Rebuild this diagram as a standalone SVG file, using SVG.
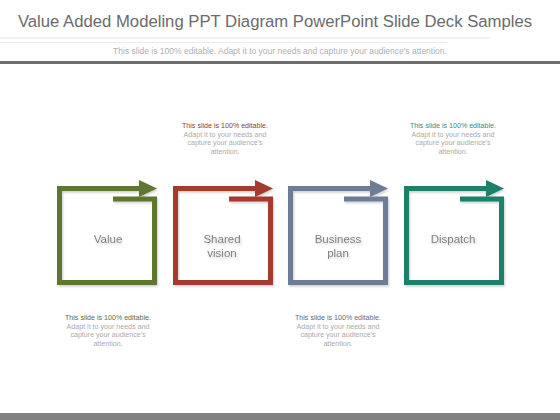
<svg xmlns="http://www.w3.org/2000/svg" width="560" height="420" viewBox="0 0 560 420">
<defs>
<filter id="sh" x="-10%" y="-10%" width="130%" height="130%"><feDropShadow dx="1" dy="1.5" stdDeviation="1.2" flood-color="#000" flood-opacity="0.2"/></filter>
</defs>
<style>
text{font-family:"Liberation Sans",Arial,sans-serif;text-anchor:middle}
.title{font-size:16.7px;fill:#6b6b6b}
.sub{font-size:8.5px;fill:#b0b0b0}
.lbl{font-size:11.5px;fill:#808080}
.note{font-size:7.1px;fill:#aaaaaa}
.frame{fill:none;stroke-width:5;stroke-linejoin:miter;stroke-linecap:butt}
</style>
<rect width="560" height="420" fill="#ffffff"/>
<text class="title" x="275" y="27">Value Added Modeling PPT Diagram PowerPoint Slide Deck Samples</text>
<line x1="0" y1="38" x2="490" y2="38" stroke="#dddddd" stroke-width="0.8"/>
<line x1="0" y1="42.5" x2="447" y2="42.5" stroke="#e6e6e6" stroke-width="0.8"/>
<text class="sub" x="280" y="54">This slide is 100% editable. Adapt it to your needs and capture your audience's attention.</text>
<rect x="0" y="61" width="560" height="3" fill="#6e6e6e"/>
<rect x="0" y="413" width="560" height="7" fill="#808080"/>

<g id="connectors"></g>

<g id="node-value" filter="url(#sh)">
<path class="frame" stroke="#5f7531" d="M113 199 H154.5 V282.5 H59.5 V188.5 H139"/>
<polygon fill="#5f7531" points="139,180 157,188.5 139,197"/>
<text class="lbl" x="108" y="243">Value</text>
</g>
<g id="node-shared-vision" filter="url(#sh)">
<path class="frame" stroke="#a53b2f" d="M229 199 H270.5 V282.5 H175.5 V188.5 H255"/>
<polygon fill="#a53b2f" points="255,180 273,188.5 255,197"/>
<text class="lbl" x="222" y="243">Shared</text>
<text class="lbl" x="222" y="257">vision</text>
</g>
<g id="node-business-plan" filter="url(#sh)">
<path class="frame" stroke="#6d7d98" d="M344 199 H385.5 V282.5 H290.5 V188.5 H370"/>
<polygon fill="#6d7d98" points="370,180 388,188.5 370,197"/>
<text class="lbl" x="338" y="243">Business</text>
<text class="lbl" x="338" y="257">plan</text>
</g>
<g id="node-dispatch" filter="url(#sh)">
<path class="frame" stroke="#1d806b" d="M460 199 H501.5 V282.5 H406.5 V188.5 H486"/>
<polygon fill="#1d806b" points="486,180 504,188.5 486,197"/>
<text class="lbl" x="453" y="243">Dispatch</text>
</g>

<g id="note-shared">
<text class="note" x="225" y="128" style="fill:#8e4037">This slide is 100% editable.</text>
<text class="note" x="225" y="136.5">Adapt it to your needs and</text>
<text class="note" x="225" y="145">capture your audience's</text>
<text class="note" x="225" y="153.5">attention.</text>
</g>
<g id="note-dispatch">
<text class="note" x="453" y="128" style="fill:#3a8c80">This slide is 100% editable.</text>
<text class="note" x="453" y="136.5">Adapt it to your needs and</text>
<text class="note" x="453" y="145">capture your audience's</text>
<text class="note" x="453" y="153.5">attention.</text>
</g>
<g id="note-value">
<text class="note" x="108" y="320" style="fill:#5e6b40">This slide is 100% editable.</text>
<text class="note" x="108" y="328.5">Adapt it to your needs and</text>
<text class="note" x="108" y="337">capture your audience's</text>
<text class="note" x="108" y="345.5">attention.</text>
</g>
<g id="note-business">
<text class="note" x="338" y="320" style="fill:#5d6a80">This slide is 100% editable.</text>
<text class="note" x="338" y="328.5">Adapt it to your needs and</text>
<text class="note" x="338" y="337">capture your audience's</text>
<text class="note" x="338" y="345.5">attention.</text>
</g>
</svg>
